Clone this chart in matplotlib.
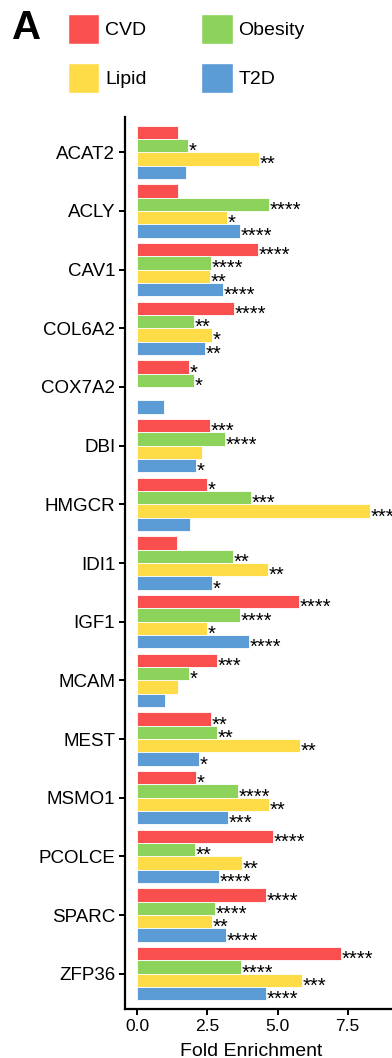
import numpy as np
import matplotlib
matplotlib.use("Agg")
import matplotlib.pyplot as plt
from matplotlib.patches import Patch

plt.rcParams["font.family"] = ["Liberation Sans", "DejaVu Sans"]

genes = ["ACAT2", "ACLY", "CAV1", "COL6A2", "COX7A2", "DBI", "HMGCR", "IDI1",
         "IGF1", "MCAM", "MEST", "MSMO1", "PCOLCE", "SPARC", "ZFP36"]
traits = ["CVD", "Obesity", "Lipid", "T2D"]
colors = {"CVD": "#F9504F", "Obesity": "#8DD25B", "Lipid": "#FDDC48", "T2D": "#5B9BD6"}

# fold enrichment per trait (nan = gene not tested for that trait)
cvd = [1.46, 1.44, 4.29, 3.45, 1.85, 2.58, 2.50, 1.40, 5.78, 2.83, 2.62, 2.10, 4.83, 4.58, 7.25]
obesity = [1.82, 4.71, 2.62, 2.03, 2.02, 3.14, 4.05, 3.42, 3.65, 1.83, 2.85, 3.59, 2.05, 2.78, 3.70]
lipid = [4.33, 3.21, 2.59, 2.65, np.nan, 2.30, 8.30, 4.66, 2.50, 1.44, 5.81, 4.68, 3.73, 2.66, 5.88]
t2d = [1.72, 3.67, 3.06, 2.42, 0.94, 2.09, 1.89, 2.67, 3.98, 1.00, 2.21, 3.22, 2.91, 3.15, 4.58]

# significance stars
cvd_sig = ["", "", "****", "****", "*", "***", "*", "", "****", "***", "**", "*", "****", "****", "****"]
obesity_sig = ["*", "****", "****", "**", "*", "****", "***", "**", "****", "*", "**", "****", "**", "****", "****"]
lipid_sig = ["**", "*", "**", "*", "", "", "***", "**", "*", "", "**", "**", "**", "**", "***"]
t2d_sig = ["", "****", "****", "**", "", "*", "", "*", "****", "", "*", "***", "****", "****", "****"]

values = {"CVD": cvd, "Obesity": obesity, "Lipid": lipid, "T2D": t2d}
sigs = {"CVD": cvd_sig, "Obesity": obesity_sig, "Lipid": lipid_sig, "T2D": t2d_sig}

W, H = 392, 1058
fig = plt.figure(figsize=(W / 100, H / 100), dpi=100)
ax = fig.add_axes([125 / W, 1 - 1009 / H, 1 - 125 / W, (1009 - 117) / H])

y = np.arange(len(genes))
bh = 0.227
for i, t in enumerate(traits):
    yy = y - 1.5 * bh + i * bh
    v = np.array(values[t], dtype=float)
    ax.barh(yy, v, height=bh, color=colors[t], edgecolor="white", linewidth=0.6)
    for yi, vi, s in zip(yy, v, sigs[t]):
        if s and not np.isnan(vi):
            ax.text(vi + 0.02, yi + 0.10, s, ha="left", va="center", fontsize=14.5,
                    color="black", clip_on=False)

ax.set_ylim(len(genes) - 0.4, -0.6)
ax.set_xlim(-0.44, 9.08)
ax.set_yticks(y)
ax.set_yticklabels(genes, fontsize=13.5)
ax.set_xticks([0, 2.5, 5, 7.5])
ax.set_xticklabels(["0.0", "2.5", "5.0", "7.5"], fontsize=12.5)
ax.set_xlabel("Fold Enrichment", fontsize=14, va="baseline")
ax.xaxis.set_label_coords(0.474, -0.0527)
for side in ["top", "right"]:
    ax.spines[side].set_visible(False)
for side in ["left", "bottom"]:
    ax.spines[side].set_linewidth(1.6)
ax.tick_params(axis="both", length=4, width=1.4, pad=3, colors="black")

handles = [Patch(facecolor=colors[t], edgecolor="white") for t in ["CVD", "Lipid", "Obesity", "T2D"]]
fig.legend(handles, ["CVD", "Lipid", "Obesity", "T2D"], ncol=2, frameon=False,
           loc="upper left", bbox_to_anchor=(68 / W, 1 - 14 / H), fontsize=14,
           borderpad=0, borderaxespad=0,
           handlelength=1.6, handleheight=2.0, handletextpad=0.3,
           labelspacing=0.98, columnspacing=2.83)
fig.text(12 / W, 1 - 28 / H, "A", fontsize=29, fontweight="bold", va="center", ha="left")

fig.savefig("out.png", dpi=100, facecolor="white")
